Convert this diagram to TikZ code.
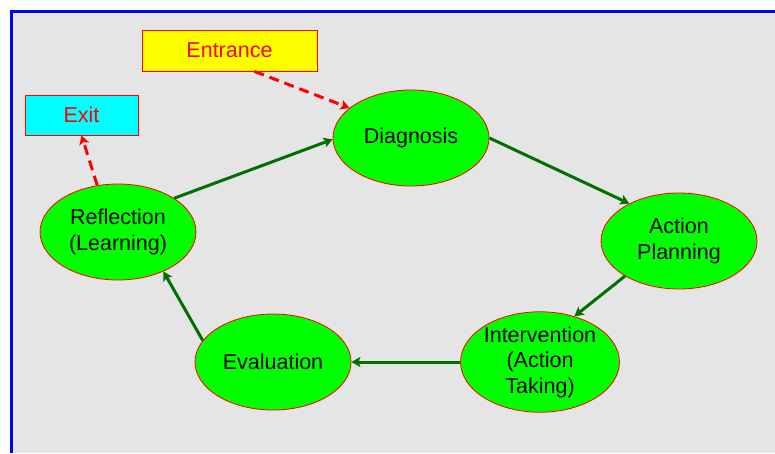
\documentclass[tikz,border=0pt]{standalone}
\usepackage{fontspec}
\setmainfont{Liberation Sans}
\usetikzlibrary{arrows.meta,shapes.geometric}
\definecolor{panelgray}{RGB}{229,229,229}
\definecolor{pathgreen}{RGB}{0,112,0}
\definecolor{stagegreen}{RGB}{0,255,0}
\definecolor{entryyellow}{RGB}{255,255,0}
\definecolor{exitcyan}{RGB}{0,255,255}
\newcommand{\labelfont}{\fontsize{21.5}{25.5}\selectfont}

\begin{document}
\begin{tikzpicture}[x=1pt,y=-1pt,
  stage/.style={ellipse, draw=red, line width=0.8pt, fill=stagegreen,
    minimum width=156pt, minimum height=96pt, inner sep=0pt,
    align=center, font=\labelfont},
  tagbox/.style={rectangle, draw=red, line width=0.8pt, text=red,
    inner sep=0pt, font=\labelfont},
  flow/.style={pathgreen, line width=3pt, -{Stealth[length=9pt,width=10pt,inset=2pt]}},
  doorway/.style={red, line width=3pt, dash pattern=on 10pt off 6pt,
    -{Stealth[length=9pt,width=10pt,inset=2pt]}}]
\useasboundingbox (0,0) rectangle (775,453);
\fill[white] (0,0) rectangle (775,453);
\fill[panelgray] (11,11) rectangle (775,453);
\draw[blue, line width=3pt] (11,453) -- (11,11) -- (775,11);
% stages of the cycle
\node[stage] (diag) at (411,138) {Diagnosis};
\node[stage] (plan) at (679,241) {Action\\Planning};
\node[stage] (inter) at (540,362) {Intervention\\(Action\\Taking)};
\node[stage] (eval) at (273,362) {Evaluation};
\node[stage] (refl) at (118,232) {Reflection\\(Learning)};
% way in and way out
\node[tagbox, fill=entryyellow, minimum width=175pt, minimum height=41pt] (entr) at (229.5,50.5) {Entrance};
\node[tagbox, fill=exitcyan, minimum width=113pt, minimum height=40pt] (exit) at (81.5,115) {Exit};
\draw[doorway] ([xshift=25pt]entr.south) -- (diag.154);
\draw[doorway] (refl.114) -- (exit.south);
\draw[flow] (refl.31) -- (diag.181);
\draw[flow] (diag.east) -- (plan.143);
\draw[flow] (plan.213) -- (inter.53);
\draw[flow] (inter.west) -- (eval.east);
\draw[flow] (eval.163) -- (refl.319);
\end{tikzpicture}
\end{document}
